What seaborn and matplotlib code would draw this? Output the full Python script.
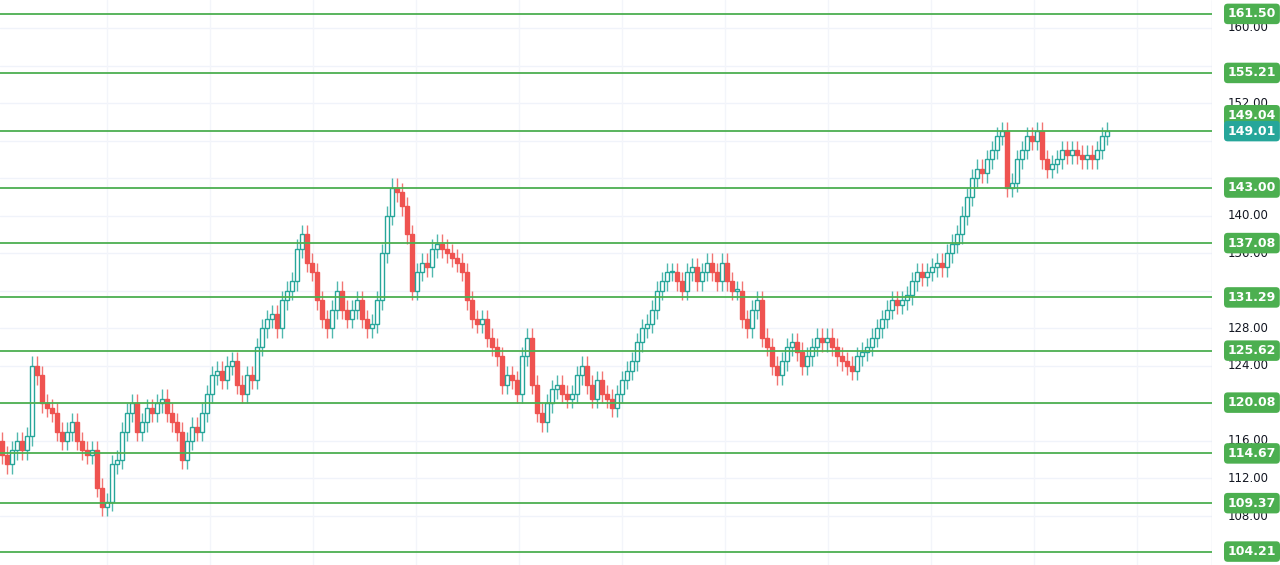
import numpy as np
import pandas as pd
import matplotlib
matplotlib.use("Agg")
import matplotlib.pyplot as plt
import seaborn as sns

closes = [114.5,113.5,115,116,115,116.5,124,123,120,119.5,
          119,117,116,117,118,116,115,114.5,115,111,
          109,109.5,113.5,114,117,119,120,117,118,119.5,
          119,120,120.5,119,118,117,114,116,117.5,117,
          119,121,123,123.5,122.5,124,124.5,122,121,123,
          122.5,126,128,129,129.5,128,131,132,133,136.5,
          138,135,134,131,129,128,130,132,130,129,
          130,131,129,128,128.5,131,136,140,143,142.5,
          141,138,132,134,135,134.5,136.5,137,136.5,136,
          135.5,135,134,131,129,128.5,129,127,126,125,
          122,123,122.5,121,125,127,122,119,118,120,
          121.5,122,121,120.5,121,123,124,122,120.5,122.5,
          121,120.5,119.5,121,122.5,123.5,124.5,126.5,128,128.5,
          130,132,133,134,134,133,132,134,134.5,133,
          134,135,134,133,135,133,132,132,129,128,
          130,131,127,126,124,123,124.5,126,126.5,125.5,
          124,125,126,127,126.5,127,126,125,124.5,124,
          123.5,125,125.5,126,127,128,129,130,131,130.5,
          131,131.5,133,134,133.5,134,134.5,135,134.5,136,
          137,138,140,142,144,145,144.5,146,147,148.5,
          149,143,143.5,146,147,148.5,148,149,146,145,
          145.5,146,147,146.5,147,146.5,146,146.5,146,147,
          148.5,149]
first_open = 116.0
wick = 1.0
levels = [161.50,155.21,149.04,143.00,137.08,131.29,125.62,120.08,114.67,109.37,104.21]
level_labels = ["161.50","155.21","149.04","143.00","137.08","131.29","125.62","120.08","114.67","109.37","104.21"]
yticks = [108,112,116,124,128,136,140,152,160]

opens = [first_open] + closes[:-1]
df = pd.DataFrame({"i": np.arange(len(closes)), "o": opens, "c": closes})
df["up"] = df.c >= df.o
df["hi"] = df[["o","c"]].max(axis=1) + wick
df["lo"] = df[["o","c"]].min(axis=1) - wick

sns.set_theme(style="white")
fig = plt.figure(figsize=(12.8,5.65), dpi=100)
ax = fig.add_axes([0,0,1212/1280,1])
ax.set_xlim(-0.4, 242)
ax.set_ylim(102.78, 162.98)
for v in range(108, 161, 4):
    ax.axhline(v, color="#f0f3fa", lw=1, zorder=0)
for xv in np.arange(21, 242, 20.6):
    ax.axvline(xv, color="#f3f5fa", lw=1, zorder=0)
up_c, dn_c = "#26a69a", "#ef5350"
for _, r in df.iterrows():
    col = up_c if r.up else dn_c
    ax.vlines(r.i, r.lo, r.hi, color=col, lw=1, alpha=0.8, zorder=2)
    b, t = min(r.o, r.c), max(r.o, r.c)
    ax.bar(r.i, max(t-b, 0.15), bottom=b, width=0.65,
           color="white" if r.up else dn_c, edgecolor=col, lw=1, zorder=3)
for lv in levels:
    ax.axhline(lv, color="#4caf50", lw=1.3, zorder=4)
for s in ax.spines.values():
    s.set_visible(False)
ax.set_xticks([]); ax.set_yticks([])
ax.axvline(242, color="#e0e3eb", lw=1)
tr = ax.get_yaxis_transform()
for v in yticks:
    ax.text(1.013, v, f"{v:.2f}", transform=tr, fontsize=8.5, color="#131722", va="center", ha="left", clip_on=False)
for lv, lab in zip(levels, level_labels):
    y = lv
    if lab == "149.04":
        y = 150.7
    ax.text(1.013, y, lab, transform=tr, fontsize=9, color="white", fontweight="bold", va="center", ha="left",
            bbox=dict(boxstyle="round,pad=0.3", fc="#4caf50", ec="none"), clip_on=False, zorder=6)
ax.text(1.013, 149.01, "149.01", transform=tr, fontsize=9, color="white", fontweight="bold", va="center", ha="left",
        bbox=dict(boxstyle="round,pad=0.3", fc="#26a69a", ec="none"), clip_on=False, zorder=7)
fig.savefig("out.png", dpi=100)
